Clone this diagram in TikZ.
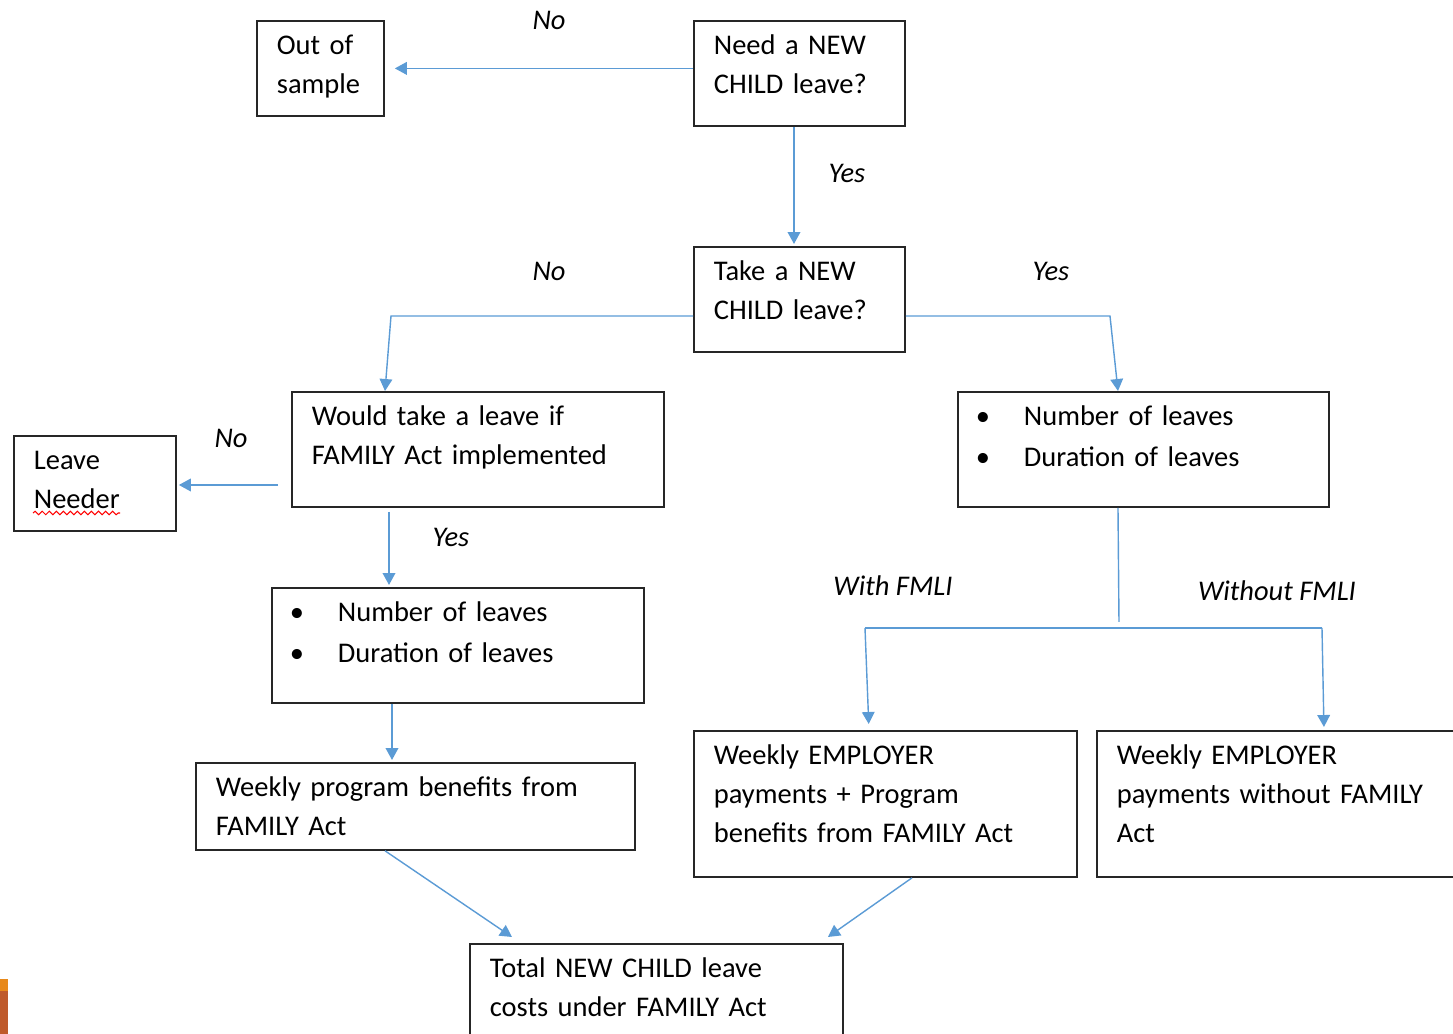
\documentclass[tikz,border=0pt]{standalone}
\usepackage{fontspec}
\setmainfont{Carlito}
\usepackage{xcolor}
\usetikzlibrary{calc,arrows.meta,decorations.pathmorphing}
\definecolor{wordblue}{HTML}{5B9BD5}
\definecolor{slideorange}{HTML}{E8891A}
\definecolor{slidebrown}{HTML}{BF5A2B}
\newcommand{\lbul}{\makebox[0.46cm][l]{\hspace{-0.02cm}\textbullet}}

\begin{document}
\begin{tikzpicture}[x=0.01cm, y=-0.01cm,
    every node/.style={font=\fontsize{8.1}{11.1}\selectfont},
    box/.style 2 args={draw=black!85, line width=0.5pt, anchor=north west, align=left,
        inner xsep=0.2cm, inner ysep=0pt, text width=#1, text height=0.34cm, text depth=#2},
    link/.style={wordblue, line width=0.4pt, -{Triangle[width=3.6pt,length=3.4pt]}},
    plain/.style={wordblue, line width=0.4pt},
    lbl/.style={font=\fontsize{8.1}{11.1}\selectfont\itshape}]

\useasboundingbox (0,0) rectangle (1453,1034);
\clip (0,0) rectangle (1453,1034);

% Boxes
\node[box={0.87cm}{0.61cm}] (out) at (256,20) {Out of\\sample};
\node[box={1.71cm}{0.71cm}] (need) at (693,20) {Need a NEW\\CHILD leave?};
\node[box={1.71cm}{0.71cm}] (take) at (693,246) {Take a NEW\\CHILD leave?};
\node[box={3.32cm}{0.81cm}] (would) at (291,391) {Would take a leave if\\FAMILY Act implemented};
\node[box={1.22cm}{0.61cm}] (needer) at (13,435) {Leave\\Needer};
\node[box={3.32cm}{0.81cm}] (leftlist) at (271,587) {\lbul Number of leaves\\[0.02cm]\lbul Duration of leaves};
\node[box={3.31cm}{0.81cm}] (rightlist) at (957,391) {\lbul Number of leaves\\[0.02cm]\lbul Duration of leaves};
\node[box={3.99cm}{0.53cm}] (progben) at (195,762) {Weekly program benefits from\\FAMILY Act};
\node[box={3.43cm}{1.12cm}] (withemp) at (693,730) {Weekly EMPLOYER\\payments + Program\\benefits from FAMILY Act};
\node[box={3.40cm}{1.12cm}] (withoutemp) at (1096,730) {Weekly EMPLOYER\\payments without FAMILY\\Act};
\node[box={3.33cm}{0.70cm}] (total) at (469,943) {Total NEW CHILD leave\\costs under FAMILY Act};

% Branch labels
\node[lbl] (no1) at (549,20) {No};
\node[lbl] (yes1) at (847,173) {Yes};
\node[lbl] (no2) at (549,271) {No};
\node[lbl] (yes2) at (1051,271) {Yes};
\node[lbl] (no3) at (231,438) {No};
\node[lbl] (yes3) at (451,537) {Yes};
\node[lbl] (withfmli) at (893,586) {With FMLI};
\node[lbl] (withoutfmli) at (1277,591) {Without FMLI};

% Top
\draw[link, shorten >=0.1cm] (need.west |- out.east) -- (out.east);
\draw[link, shorten >=0.02cm] ($(need.south west)+(101,0)$) -- ($(take.north west)+(101,0)$);

% Take a leave split
\coordinate (splitL) at (391,316);
\coordinate (splitR) at (1110,316);
\draw[link] (take.west |- splitL) -- (splitL) -- ($(would.north west)+(94,0)$);
\draw[link] (take.east |- splitR) -- (splitR) -- ($(rightlist.north west)+(161,0)$);

% Left branch
\coordinate (neederin) at (278,485);
\draw[link, shorten >=0.02cm] (neederin) -- (needer.east |- neederin);
\draw[link, shorten >=0.02cm] ($(would.south west)+(98,4)$) -- ($(leftlist.north west)+(118,0)$);
\draw[link, shorten >=0.02cm] ($(leftlist.south west)+(121,0)$) -- ($(progben.north west)+(197,0)$);

% Right branch: FMLI fork
\coordinate (fork) at (1119,622);
\coordinate (forkL) at (865,628);
\coordinate (forkR) at (1322,628);
\draw[plain] ($(rightlist.south west)+(161,0)$) -- (fork);
\draw[plain] (forkL) -- (forkR);
\draw[link, shorten >=0.06cm] (forkL) -- ($(withemp.north west)+(176,0)$);
\draw[link, shorten >=0.03cm] (forkR) -- ($(withoutemp.north west)+(228,0)$);

% Into total
\draw[link] ($(progben.south west)+(190,0)$) -- ($(total.north west)+(43,-6)$);
\draw[link] ($(withemp.south west)+(219,0)$) -- ($(total.north east)+(-16,-6)$);

% Spell-check mark and slide edge
\draw[red, line width=0.3pt, decorate, decoration={snake, amplitude=0.5pt, segment length=2pt}]
    (33,513) -- (120,513);
\fill[slideorange] (0,979) rectangle (8,991);
\fill[slidebrown] (0,991) rectangle (8,1034);

\end{tikzpicture}
\end{document}
